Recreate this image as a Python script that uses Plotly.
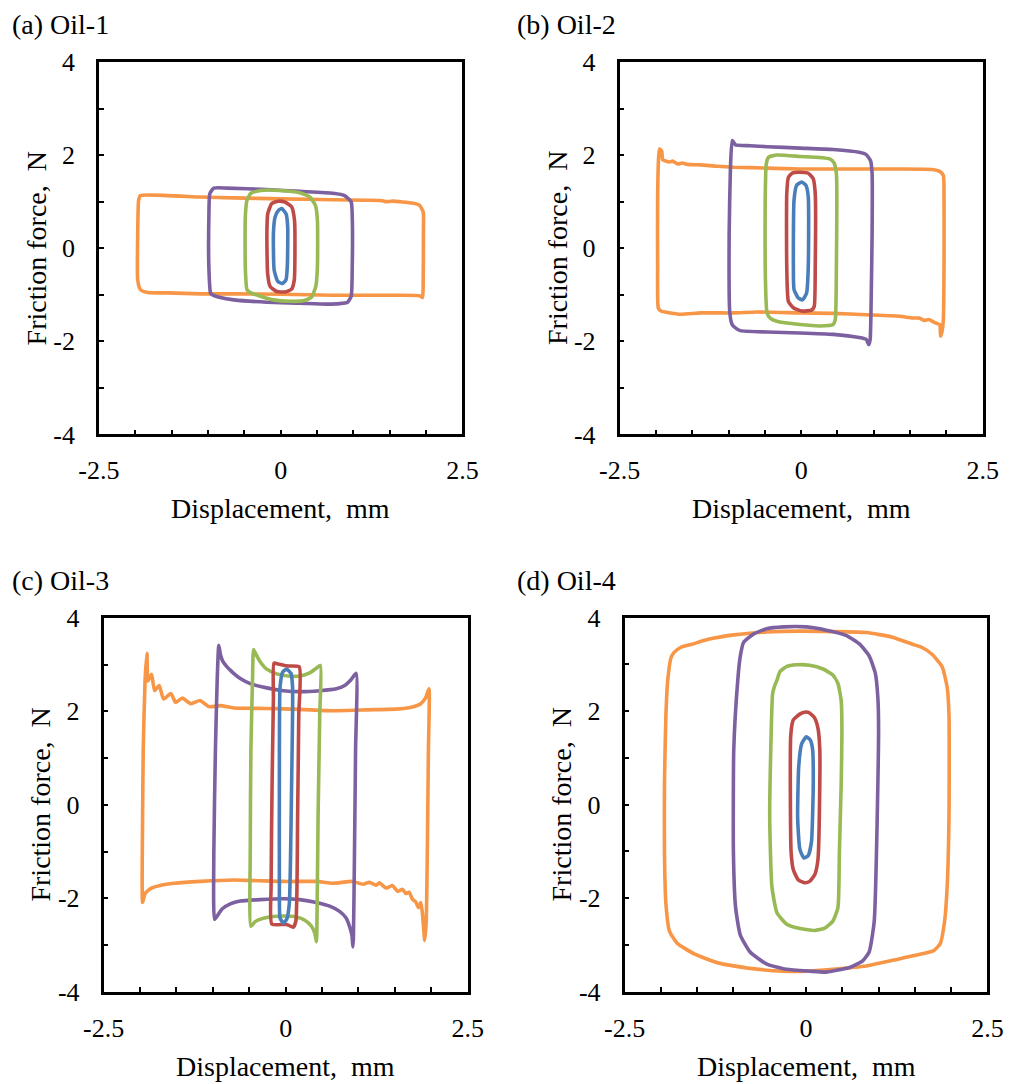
import plotly.graph_objects as go

# ---------------------------------------------------------------------------
# Friction force vs. displacement loops (x: mm, y: N) for four oils.
# Each loop is listed as (displacement, force) points around the cycle.
# Amplitudes: 0.1, 0.2, 0.5, 1.0 and 2.0 mm.
# ---------------------------------------------------------------------------
amplitudes = ["0.1 mm", "0.2 mm", "0.5 mm", "1.0 mm", "2.0 mm"]
loop_colors = ["#4A7EBB", "#BE4B48", "#98B954", "#7D60A0", "#F79646"]

panel_titles = ["(a) Oil-1", "(b) Oil-2", "(c) Oil-3", "(d) Oil-4"]
x_ticks = [-2.5, 0, 2.5]
x_tick_text = ["-2.5", "0", "2.5"]
y_ticks = [-4, -2, 0, 2, 4]
y_tick_text = ["-4", "-2", "0", "2", "4"]

# ---- Oil-1 ----------------------------------------------------------------
oil1_a01 = [(0.014, 0.85), (0.073, 0.74), (0.096, 0.46), (0.091, -0.39), (0.073, -0.68),
            (0.023, -0.76), (-0.041, -0.71), (-0.09, -0.47), (-0.10, 0.32), (-0.077, 0.67),
            (-0.032, 0.81)]
oil1_a02 = [(-0.032, 1.01), (0.06, 0.99), (0.15, 0.89), (0.19, 0.60), (0.196, -0.04),
            (0.187, -0.68), (0.15, -0.88), (0.06, -0.94), (-0.055, -0.93), (-0.146, -0.82),
            (-0.18, -0.54), (-0.19, 0.32), (-0.178, 0.74), (-0.123, 0.96)]
oil1_a05 = [(-0.464, -0.89), (-0.487, -0.40), (-0.487, 0.67), (-0.464, 1.03), (-0.41, 1.18),
            (-0.28, 1.24), (-0.01, 1.24), (0.264, 1.19), (0.40, 1.10), (0.478, 0.92),
            (0.505, 0.60), (0.505, -0.40), (0.483, -0.82), (0.42, -1.06), (0.31, -1.13),
            (0.128, -1.14), (-0.10, -1.11), (-0.28, -1.03), (-0.41, -0.96)]
oil1_a10 = [(-0.965, -0.96), (-0.988, -0.40), (-0.988, 0.67), (-0.975, 1.17), (-0.92, 1.29),
            (-0.74, 1.29), (-0.19, 1.26), (0.264, 1.22), (0.72, 1.18), (0.88, 1.13),
            (0.97, 0.99), (0.984, 0.67), (0.984, -0.40), (0.97, -1.03), (0.92, -1.16),
            (0.81, -1.19), (0.63, -1.20), (0.264, -1.18), (-0.19, -1.16), (-0.647, -1.11),
            (-0.83, -1.06), (-0.94, -1.00)]
oil1_a20 = [(-1.93, -0.89), (-1.967, -0.68), (-1.967, 0.32), (-1.954, 1.03), (-1.93, 1.13),
            (-1.557, 1.13), (-1.10, 1.10), (-0.647, 1.08), (0.0, 1.06), (0.72, 1.04),
            (1.175, 1.03), (1.40, 1.02), (1.45, 1.00), (1.54, 1.01), (1.81, 0.97),
            (1.91, 0.92), (1.96, 0.78), (1.963, 0.32), (1.96, -0.75), (1.95, -1.06),
            (1.91, -1.02), (1.63, -1.01), (1.175, -1.01), (0.72, -1.01), (0.0, -0.99),
            (-0.647, -0.98), (-1.10, -0.98), (-1.557, -0.96), (-1.83, -0.95)]

# ---- Oil-2 ----------------------------------------------------------------
oil2_a01 = [(0.007, 1.42), (0.066, 1.35), (0.098, 1.10), (0.098, -0.40), (0.075, -0.96),
            (0.02, -1.11), (-0.039, -1.07), (-0.098, -0.89), (-0.107, -0.40), (-0.098, 1.03),
            (-0.062, 1.35)]
oil2_a02 = [(-0.016, 1.63), (0.098, 1.61), (0.166, 1.49), (0.194, 1.17), (0.194, -0.40),
            (0.18, -1.25), (0.144, -1.33), (0.007, -1.35), (-0.107, -1.28), (-0.176, -1.14),
            (-0.198, -0.40), (-0.198, 1.17), (-0.176, 1.52), (-0.116, 1.62)]
oil2_a05 = [(-0.47, -1.39), (-0.495, -0.40), (-0.495, 1.03), (-0.48, 1.81), (-0.45, 1.95),
            (-0.335, 2.00), (-0.016, 1.97), (0.394, 1.92), (0.453, 1.83), (0.485, 1.60),
            (0.485, -0.40), (0.47, -1.53), (0.44, -1.64), (0.258, -1.67), (-0.016, -1.64),
            (-0.335, -1.57), (-0.426, -1.50)]
oil2_a10 = [(-0.95, -1.64), (-0.982, -1.39), (-0.991, 0.32), (-0.973, 1.74), (-0.95, 2.31),
            (-0.927, 2.27), (-0.905, 2.22), (-0.70, 2.20), (-0.47, 2.18), (-0.016, 2.15),
            (0.44, 2.12), (0.80, 2.06), (0.896, 2.01), (0.955, 1.88), (0.977, 1.60),
            (0.977, 0.32), (0.964, -1.10), (0.95, -1.96), (0.93, -2.07), (0.896, -1.96),
            (0.80, -1.92), (0.44, -1.85), (-0.016, -1.82), (-0.47, -1.80), (-0.836, -1.77),
            (-0.905, -1.71)]
oil2_a20 = [(-1.967, -1.28), (-1.976, -0.40), (-1.976, 1.03), (-1.962, 1.95), (-1.949, 2.13),
            (-1.92, 2.09), (-1.906, 1.90), (-1.86, 1.87), (-1.816, 1.85), (-1.77, 1.87),
            (-1.70, 1.81), (-1.634, 1.83), (-1.566, 1.80), (-1.38, 1.79), (-1.155, 1.76),
            (-0.93, 1.74), (-0.47, 1.72), (-0.016, 1.70), (0.44, 1.70), (0.895, 1.70),
            (1.35, 1.70), (1.807, 1.69), (1.908, 1.65), (1.958, 1.56), (1.967, 1.03),
            (1.967, -0.40), (1.958, -1.53), (1.935, -1.82), (1.92, -1.89), (1.908, -1.64),
            (1.876, -1.62), (1.807, -1.57), (1.76, -1.53), (1.69, -1.55), (1.625, -1.50),
            (1.534, -1.50), (1.35, -1.46), (0.895, -1.43), (0.44, -1.40), (-0.016, -1.39),
            (-0.61, -1.37), (-0.93, -1.39), (-1.38, -1.39), (-1.657, -1.42), (-1.84, -1.38),
            (-1.93, -1.35)]

# ---- Oil-3 ----------------------------------------------------------------
oil3_a01 = [(0.014, 2.90), (0.073, 2.81), (0.095, 2.51), (0.082, 0.45), (0.05, -2.12),
            (0.014, -2.45), (-0.032, -2.53), (-0.077, -2.42), (-0.086, -1.75), (-0.086, 0.45),
            (-0.077, 2.51), (-0.04, 2.84)]
oil3_a02 = [(-0.16, 3.03), (-0.10, 3.01), (0.014, 2.97), (0.186, 2.95), (0.18, 1.92),
            (0.164, -0.28), (0.14, -2.49), (0.105, -2.62), (0.014, -2.56), (-0.19, -2.55),
            (-0.20, -1.75), (-0.186, 0.45), (-0.168, 2.29)]
oil3_a05 = [(-0.477, -2.60), (-0.486, -1.02), (-0.477, 1.19), (-0.455, 2.66), (-0.44, 3.32),
            (-0.405, 3.21), (-0.35, 3.06), (-0.26, 2.90), (-0.123, 2.80), (0.06, 2.75),
            (0.218, 2.76), (0.33, 2.82), (0.42, 2.92), (0.477, 2.98), (0.468, 1.92),
            (0.445, -0.28), (0.43, -2.49), (0.423, -2.93), (0.40, -2.75), (0.355, -2.60),
            (0.264, -2.47), (0.15, -2.40), (0.014, -2.38), (-0.168, -2.39), (-0.305, -2.43),
            (-0.418, -2.50)]
oil3_a10 = [(-0.977, -2.45), (-0.986, -1.02), (-0.964, 1.19), (-0.94, 2.66), (-0.918, 3.41),
            (-0.895, 3.21), (-0.86, 3.06), (-0.805, 2.95), (-0.76, 2.88), (-0.714, 2.81),
            (-0.623, 2.70), (-0.486, 2.59), (-0.26, 2.50), (-0.032, 2.44), (0.195, 2.42),
            (0.468, 2.44), (0.695, 2.48), (0.81, 2.55), (0.90, 2.68), (0.968, 2.81),
            (0.96, 1.19), (0.945, -1.02), (0.93, -2.86), (0.923, -3.04), (0.91, -2.79),
            (0.877, -2.60), (0.83, -2.42), (0.74, -2.28), (0.605, -2.17), (0.423, -2.09),
            (0.195, -2.03), (-0.032, -2.01), (-0.35, -2.03), (-0.623, -2.06), (-0.76, -2.12),
            (-0.873, -2.23), (-0.94, -2.38)]
oil3_a20 = [(-1.964, -2.09), (-1.964, -0.28), (-1.955, 1.19), (-1.93, 2.66), (-1.904, 3.24),
            (-1.89, 2.65), (-1.84, 2.79), (-1.80, 2.44), (-1.736, 2.55), (-1.676, 2.26),
            (-1.576, 2.38), (-1.51, 2.19), (-1.42, 2.28), (-1.30, 2.16), (-1.177, 2.23),
            (-1.054, 2.10), (-0.894, 2.12), (-0.71, 2.07), (-0.26, 2.06),
            (0.195, 2.04), (0.65, 2.01), (1.105, 2.03), (1.56, 2.05), (1.74, 2.09),
            (1.855, 2.16), (1.923, 2.29), (1.968, 2.48), (1.96, 1.19), (1.945, -1.02),
            (1.93, -2.49), (1.91, -2.90), (1.877, -2.31), (1.855, -2.09), (1.822, -2.20),
            (1.787, -2.08), (1.74, -2.02), (1.695, -1.87), (1.65, -1.90), (1.604, -1.81),
            (1.536, -1.85), (1.468, -1.73), (1.378, -1.78), (1.286, -1.67), (1.24, -1.72),
            (1.15, -1.66), (1.06, -1.70), (0.92, -1.64), (0.65, -1.68), (0.42, -1.64),
            (-0.03, -1.64), (-0.71, -1.61), (-1.17, -1.64), (-1.53, -1.68), (-1.71, -1.72),
            (-1.85, -1.79), (-1.93, -1.90)]

# ---- Oil-4 ----------------------------------------------------------------
oil4_a01 = [(0.005, 1.45), (0.06, 1.38), (0.09, 1.19), (0.10, 0.45), (0.075, -0.80),
            (0.03, -1.09), (-0.03, -1.14), (-0.085, -0.95), (-0.115, -0.28), (-0.10, 0.82),
            (-0.06, 1.30)]
oil4_a02 = [(0.0, 1.98), (0.05, 1.96), (0.12, 1.85), (0.165, 1.63), (0.19, 1.19),
            (0.19, 0.45), (0.165, -1.17), (0.12, -1.50), (0.05, -1.64), (-0.015, -1.67),
            (-0.105, -1.61), (-0.175, -1.39), (-0.205, -1.02), (-0.21, 1.48), (-0.175, 1.81),
            (-0.08, 1.94)]
oil4_a05 = [(-0.40, 2.66), (-0.36, 2.84), (-0.27, 2.95), (-0.13, 2.99), (0.05, 2.98),
            (0.235, 2.90), (0.37, 2.77), (0.44, 2.59), (0.485, 2.22), (0.495, 1.56),
            (0.485, 0.45), (0.46, -1.02), (0.44, -2.20), (0.37, -2.49), (0.26, -2.64),
            (0.12, -2.69), (-0.08, -2.65), (-0.27, -2.55), (-0.40, -2.31), (-0.47, -1.75),
            (-0.50, -0.28), (-0.485, 1.19), (-0.46, 2.37), (-0.43, 2.55)]
oil4_a10 = [(-0.86, 3.47), (-0.72, 3.65), (-0.54, 3.76), (-0.31, 3.80), (0.005, 3.80),
            (0.28, 3.73), (0.55, 3.62), (0.74, 3.43), (0.87, 3.18), (0.955, 2.81),
            (0.99, 2.29), (1.0, 1.56), (0.94, -2.49), (0.87, -3.15), (0.78, -3.34),
            (0.60, -3.48), (0.28, -3.58), (0.05, -3.56), (-0.27, -3.52), (-0.54, -3.41),
            (-0.77, -3.15), (-0.905, -2.79), (-0.97, -2.20), (-1.0, -1.02), (-0.995, 1.19),
            (-0.94, 2.66), (-0.905, 3.18)]
oil4_a20 = [(-1.82, 3.25), (-1.73, 3.36), (-1.57, 3.43), (-1.36, 3.53), (-0.995, 3.63),
            (-0.54, 3.69), (-0.08, 3.71), (0.37, 3.70), (0.83, 3.68), (1.19, 3.58),
            (1.465, 3.43), (1.60, 3.36), (1.74, 3.21), (1.875, 2.95), (1.945, 2.51),
            (1.97, 1.92), (1.97, -0.28), (1.945, -1.75), (1.91, -2.49), (1.85, -2.97),
            (1.76, -3.12), (1.60, -3.19), (1.28, -3.30), (0.83, -3.45), (0.37, -3.52),
            (0.005, -3.56), (-0.31, -3.56), (-0.77, -3.50), (-1.22, -3.38), (-1.54, -3.19),
            (-1.77, -2.97), (-1.88, -2.71), (-1.93, -2.12), (-1.95, -1.02), (-1.95, 0.45),
            (-1.93, 1.92), (-1.905, 2.66), (-1.86, 3.14)]

panels = [
    [oil1_a01, oil1_a02, oil1_a05, oil1_a10, oil1_a20],
    [oil2_a01, oil2_a02, oil2_a05, oil2_a10, oil2_a20],
    [oil3_a01, oil3_a02, oil3_a05, oil3_a10, oil3_a20],
    [oil4_a01, oil4_a02, oil4_a05, oil4_a10, oil4_a20],
]

# ---------------------------------------------------------------------------
# Page layout (pixels): frame of each plot box as left, right, top, bottom
# ---------------------------------------------------------------------------
W, H = 1010, 1084
frames = [
    (97.7, 463.7, 60.7, 435.7),
    (618.3, 984.0, 60.7, 435.7),
    (102.3, 469.0, 616.5, 993.0),
    (623.3, 988.7, 616.3, 993.0),
]
AXIS_LW = 2.5
FONT = "Liberation Serif, Times New Roman, serif"
TICK_SIZE = 26
TITLE_SIZE = 28

fig = go.Figure()
annotations = []

for i, (loops, frame) in enumerate(zip(panels, frames)):
    left, right, top, bottom = frame
    inset = AXIS_LW / 2
    xdom = [(left + inset) / W, (right - inset) / W]
    ydom = [1 - (bottom - inset) / H, 1 - (top + inset) / H]
    n = "" if i == 0 else str(i + 1)
    xa, ya = "x" + n, "y" + n

    # largest loop first so the smaller loops sit on top
    for pts, name, color in reversed(list(zip(loops, amplitudes, loop_colors))):
        xs = [p[0] for p in pts] + [pts[0][0]]
        ys = [p[1] for p in pts] + [pts[0][1]]
        fig.add_trace(go.Scatter(
            x=xs, y=ys, mode="lines", name=name, showlegend=False,
            line=dict(color=color, width=3.6, shape="spline", smoothing=0.5),
            xaxis=xa, yaxis=ya, hoverinfo="skip",
        ))

    common = dict(showgrid=False, zeroline=False, showline=True, linecolor="black",
                  linewidth=AXIS_LW, mirror=True, ticks="inside", ticklen=5,
                  tickwidth=1.5, tickcolor="black", automargin=False,
                  tickfont=dict(family=FONT, size=TICK_SIZE, color="black"))
    fig.layout["xaxis" + n] = dict(
        common, domain=xdom, anchor=ya, range=[-2.5, 2.5],
        tickvals=x_ticks, ticktext=x_tick_text, ticklabelstandoff=11,
        minor=dict(dtick=0.5, tick0=0, ticks="inside", ticklen=5, tickwidth=1.5,
                   tickcolor="black", showgrid=False),
    )
    fig.layout["yaxis" + n] = dict(
        common, domain=ydom, anchor=xa, range=[-4, 4],
        tickvals=y_ticks, ticktext=y_tick_text, ticklabelstandoff=16,
        minor=dict(dtick=1, tick0=0, ticks="inside", ticklen=5, tickwidth=1.5,
                   tickcolor="black", showgrid=False),
    )

    cx = (left + right) / 2
    cy = (top + bottom) / 2
    # axis titles
    annotations.append(dict(
        text="Displacement,\u00a0 mm", x=cx / W, y=1 - (bottom + 73) / H,
        xref="paper", yref="paper", xanchor="center", yanchor="middle",
        showarrow=False, font=dict(family=FONT, size=TITLE_SIZE, color="black")))
    annotations.append(dict(
        text="Friction force,\u00a0 N", x=(left - 61.5) / W, y=1 - cy / H,
        xref="paper", yref="paper", xanchor="center", yanchor="middle", textangle=-90,
        showarrow=False, font=dict(family=FONT, size=TITLE_SIZE, color="black")))
    # panel heading
    hx = 10 if i % 2 == 0 else 515
    hy = 24 if i < 2 else 580
    annotations.append(dict(
        text=panel_titles[i], x=hx / W, y=1 - hy / H, xref="paper", yref="paper",
        xanchor="left", yanchor="middle", showarrow=False,
        font=dict(family=FONT, size=TITLE_SIZE, color="black")))

fig.update_layout(
    template="none",
    width=W, height=H, margin=dict(l=0, r=0, t=0, b=0, autoexpand=False),
    paper_bgcolor="white", plot_bgcolor="white",
    annotations=annotations, showlegend=False,
)

fig.write_html("out.html")
